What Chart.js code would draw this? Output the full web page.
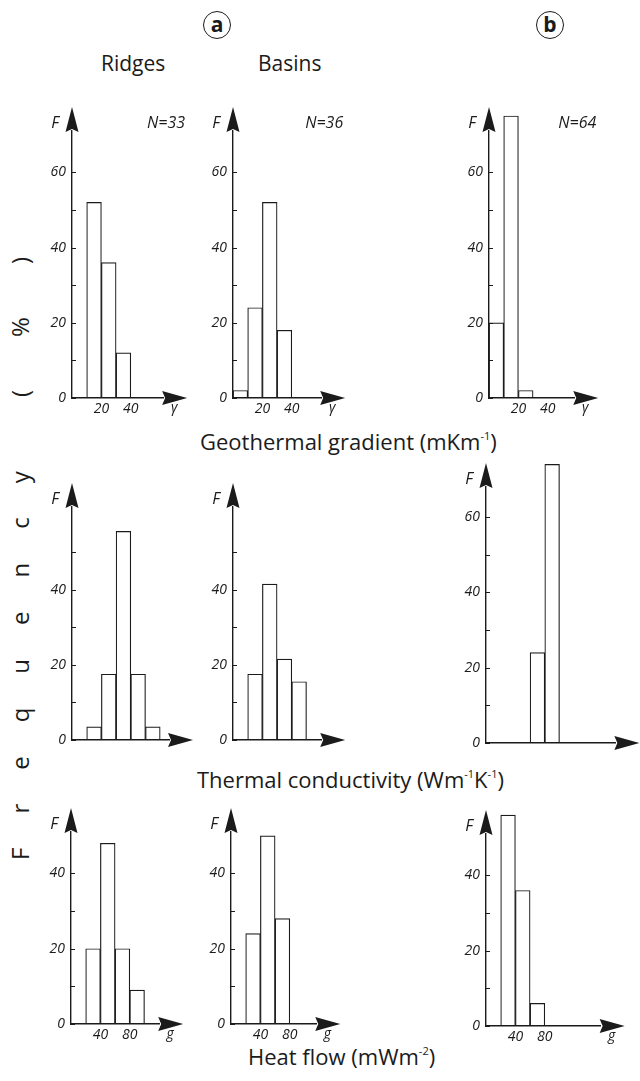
<!DOCTYPE html>
<html>
<head>
<meta charset="utf-8">
<script src="https://cdn.jsdelivr.net/npm/chart.js@4.4.1/dist/chart.umd.min.js"></script>
<style>
  body { margin: 0; background: #fff; }
  #fig { position: relative; width: 640px; height: 1081px; overflow: hidden;
         font-family: "Open Sans", sans-serif; color: #1b1b1b; }
  #fig canvas { position: absolute; }
  .txt { position: absolute; white-space: nowrap; line-height: 1; }
  .hd { font-size: 21px; }
  .ttl { font-size: 22px; }
  .ttl sup { font-size: 11px; vertical-align: 10px; }
  .circ { position: absolute; width: 28px; height: 28px; border: 1.6px solid #1b1b1b;
          border-radius: 50%; font: bold 21px "Open Sans", sans-serif; text-align: center;
          line-height: 25px; box-sizing: border-box; }
  #freq { position: absolute; left: 8px; top: 860px; font-size: 24px; line-height: 1;
          letter-spacing: 34px; white-space: nowrap; transform-origin: 0 0; transform: rotate(-90deg); }
  #freq .gap { margin-left: 19px; }
</style>
</head>
<body>
<div id="fig">
  <div class="circ" style="left:203px;top:11px">a</div>
  <div class="circ" style="left:536px;top:11px">b</div>
  <div class="txt hd" style="left:101px;top:53px">Ridges</div>
  <div class="txt hd" style="left:258px;top:53px">Basins</div>
  <div class="txt ttl" style="left:200px;top:430px">Geothermal gradient (mKm<sup>-1</sup>)</div>
  <div class="txt ttl" style="left:197px;top:768px">Thermal conductivity (Wm<sup>-1</sup>K<sup>-1</sup>)</div>
  <div class="txt ttl" style="left:248px;top:1045px">Heat flow (mWm<sup>-2</sup>)</div>
  <div id="freq">Frequency (<span class="gap">%</span><span class="gap">)</span></div>
</div>
<script>
const INK = '#1b1b1b';

// bin centres of each histogram
const gradBins = [5, 15, 25, 35];                        // mK/m, 10 wide
const condBins = [0.25, 0.75, 1.25, 1.75, 2.25, 2.75];   // W/m/K, 0.5 wide
const flowBins = [10, 30, 50, 70, 90];                   // mW/m2, 20 wide

// frequencies in %
const gradRidges = [0, 52, 36, 12];
const gradBasins = [2, 24, 52, 18];
const gradB      = [20, 75, 2, 0];
const condRidges = [0, 3.5, 17.5, 55.5, 17.5, 3.5];
const condBasins = [0, 17.5, 41.5, 21.5, 15.5, 0];
const condB      = [0, 0, 0, 24, 74, 0];
const flowRidges = [0, 20, 48, 20, 9];
const flowBasins = [0, 24, 50, 28, 0];
const flowB      = [0, 56, 36, 6, 0];

// tick labels
const gradTicks = [20, 40];
const condTicks = [];
const flowTicks = [40, 80];
const sampleSizes = ['N=33', 'N=36', 'N=64'];

// layout
const BIN_PX = 14.7, PCT_PX = 3.76;
const PAD = { left: 40, top: 36, right: 56, bottom: 26 };

const panels = [
  { bins: gradBins, vals: gradRidges, ticks: gradTicks, w: 10,  xMax: 62,  yMax: 71, ax: 72,  zero: 398,  n: sampleSizes[0], sym: 'γ' },
  { bins: gradBins, vals: gradBasins, ticks: gradTicks, w: 10,  xMax: 60,  yMax: 71, ax: 233, zero: 398,  n: sampleSizes[1], sym: 'γ' },
  { bins: gradBins, vals: gradB,      ticks: gradTicks, w: 10,  xMax: 58,  yMax: 71, ax: 489, zero: 398,  n: sampleSizes[2], sym: 'γ' },
  { bins: condBins, vals: condRidges, ticks: condTicks, w: 0.5, xMax: 3.3, yMax: 62, ax: 72,  zero: 740 },
  { bins: condBins, vals: condBasins, ticks: condTicks, w: 0.5, xMax: 3.0, yMax: 62, ax: 233, zero: 740 },
  { bins: condBins, vals: condB,      ticks: condTicks, w: 0.5, xMax: 4.4, yMax: 68, ax: 486, zero: 743 },
  { bins: flowBins, vals: flowRidges, ticks: flowTicks, w: 20,  xMax: 120, yMax: 51, ax: 71,  zero: 1024, sym: 'g' },
  { bins: flowBins, vals: flowBasins, ticks: flowTicks, w: 20,  xMax: 116, yMax: 51, ax: 231, zero: 1024, sym: 'g' },
  { bins: flowBins, vals: flowB,      ticks: flowTicks, w: 20,  xMax: 156, yMax: 51, ax: 486, zero: 1026, sym: 'g' },
];

Chart.defaults.font.family = '"Open Sans", sans-serif';
Chart.defaults.color = INK;

// arrows, inner tick marks, F / N / variable labels
const axisDecor = {
  id: 'axisDecor',
  afterDraw(chart, args, o) {
    const { ctx, chartArea: a, scales: { y } } = chart;
    ctx.save();
    ctx.fillStyle = INK;
    ctx.strokeStyle = INK;
    ctx.lineWidth = 1;
    y.ticks.forEach(t => {
      const py = Math.round(y.getPixelForValue(t.value)) + 0.5;
      ctx.beginPath();
      ctx.moveTo(a.left, py);
      ctx.lineTo(a.left + 4, py);
      ctx.stroke();
    });
    // vertical arrow
    ctx.beginPath();
    ctx.moveTo(a.left, a.top - 24);
    ctx.lineTo(a.left + 6.5, a.top + 1);
    ctx.lineTo(a.left, a.top - 2);
    ctx.lineTo(a.left - 6.5, a.top + 1);
    ctx.closePath();
    ctx.fill();
    // horizontal arrow
    ctx.beginPath();
    ctx.moveTo(a.right + 24, a.bottom);
    ctx.lineTo(a.right - 1, a.bottom - 7);
    ctx.lineTo(a.right + 2, a.bottom);
    ctx.lineTo(a.right - 1, a.bottom + 7);
    ctx.closePath();
    ctx.fill();

    ctx.font = 'italic 16px "Open Sans", sans-serif';
    ctx.textBaseline = 'middle';
    ctx.textAlign = 'right';
    ctx.fillText('F', a.left - 13, a.top - 8);
    if (o.n) {
      ctx.fillText(o.n, a.right + 22, a.top - 8);
    }
    if (o.sym) {
      ctx.font = 'italic 14px "Open Sans", sans-serif';
      ctx.textAlign = 'center';
      ctx.textBaseline = 'top';
      ctx.fillText(o.sym, a.right + 11, a.bottom + 3);
    }
    ctx.restore();
  }
};

const fig = document.getElementById('fig');

panels.forEach(p => {
  const plotW = p.xMax * BIN_PX / p.w;
  const plotH = p.yMax * PCT_PX;
  const cv = document.createElement('canvas');
  cv.width = Math.round(PAD.left + plotW + PAD.right);
  cv.height = Math.round(PAD.top + plotH + PAD.bottom);
  cv.style.left = (p.ax - PAD.left) + 'px';
  cv.style.top = (p.zero - plotH - PAD.top) + 'px';
  fig.appendChild(cv);

  new Chart(cv.getContext('2d'), {
    type: 'bar',
    data: {
      datasets: [{
        data: p.bins.map((b, i) => ({ x: b, y: p.vals[i] })),
        backgroundColor: '#fff',
        borderColor: INK,
        borderWidth: 1.2,
        barPercentage: 1,
        categoryPercentage: 1,
        clip: false,
      }],
    },
    options: {
      responsive: false,
      animation: false,
      layout: { padding: { left: 0, top: PAD.top, right: cv.width - PAD.left - plotW, bottom: 0 } },
      plugins: {
        legend: { display: false },
        tooltip: { enabled: false },
        axisDecor: { n: p.n, sym: p.sym },
      },
      scales: {
        x: {
          type: 'linear',
          min: 0,
          max: p.xMax,
          offset: false,
          grid: { display: false, drawTicks: false },
          border: { color: INK, width: 1.4, z: 1 },
          ticks: { padding: 3, font: { size: 14, style: 'italic' }, maxRotation: 0 },
          afterBuildTicks: s => { s.ticks = p.ticks.map(v => ({ value: v })); },
          afterFit: s => { s.height = PAD.bottom; },
        },
        y: {
          min: 0,
          max: p.yMax,
          grid: { display: false, drawTicks: false },
          border: { color: INK, width: 1.4, z: 1 },
          ticks: {
            stepSize: 10,
            padding: 6,
            font: { size: 14, style: 'italic' },
            callback: v => (v % 20 === 0 ? v : ''),
          },
          afterBuildTicks: s => { s.ticks = s.ticks.filter(t => t.value % 10 === 0); },
          afterFit: s => { s.width = PAD.left; },
        },
      },
    },
    plugins: [axisDecor],
  });
});
</script>
</body>
</html>
